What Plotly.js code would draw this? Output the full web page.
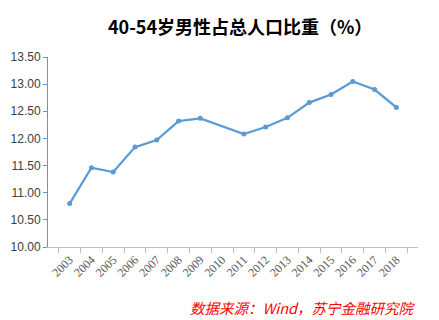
<!DOCTYPE html>
<html>
<head>
<meta charset="utf-8">
<script src="https://cdn.plot.ly/plotly-3.0.1.min.js"></script>
<style>html,body{margin:0;padding:0;background:#fff}#chart{width:439px;height:320px}</style>
</head>
<body>
<div id="chart"></div>
<script>
var years = ["2003","2004","2005","2006","2007","2008","2009","2010","2011","2012","2013","2014","2015","2016","2017","2018"];
var share = [10.80, 11.46, 11.38, 11.84, 11.97, 12.32, 12.37, null, 12.08, 12.21, 12.38, 12.66, 12.81, 13.05, 12.90, 12.57];
var yTicks = [10.0, 10.5, 11.0, 11.5, 12.0, 12.5, 13.0, 13.5];
var yTickText = ["10.00","10.50","11.00","11.50","12.00","12.50","13.00","13.50"];

var trace = {
  x: years, y: share, type: "scatter", mode: "lines+markers",
  connectgaps: true,
  line: {color: "#5B9BD5", width: 2.25},
  marker: {color: "#5B9BD5", size: 5},
  hoverinfo: "x+y"
};
var layout = {
  width: 439, height: 320,
  margin: {l: 48, r: 21, t: 57, b: 73},
  paper_bgcolor: "#fff", plot_bgcolor: "#fff",
  showlegend: false,
  title: {text: "40-54岁男性占总人口比重（%）", x: 0.547, xanchor: "center", y: 0.915, yanchor: "middle",
          font: {family: "Noto Sans CJK SC", size: 18, color: "#000", weight: "bold"}},
  xaxis: {type: "category", tickson: "boundaries", ticks: "outside", ticklen: 5, tickcolor: "#BFBFBF",
          showline: true, linecolor: "#BFBFBF", linewidth: 1, showgrid: false, zeroline: false,
          tickangle: -45, tickfont: {family: "Liberation Serif", size: 12, color: "#595959"}},
  yaxis: {range: [10.0, 13.5], tickvals: yTicks, ticktext: yTickText, ticks: "outside", ticklen: 4,
          tickcolor: "#5B9BD5", showline: true, linecolor: "#5B9BD5", linewidth: 1, showgrid: false,
          zeroline: false, tickfont: {family: "Liberation Sans", size: 12, color: "#404040"}},
  annotations: [{text: "数据来源：Wind，苏宁金融研究院", xref: "paper", yref: "paper", x: 1.0, y: -0.25,
                 xanchor: "right", yanchor: "top", showarrow: false,
                 font: {family: "Noto Sans CJK SC", size: 14.5, color: "#FF0000", style: "italic"}}]
};
Plotly.newPlot("chart", [trace], layout, {displayModeBar: false, staticPlot: true});
</script>
</body>
</html>
